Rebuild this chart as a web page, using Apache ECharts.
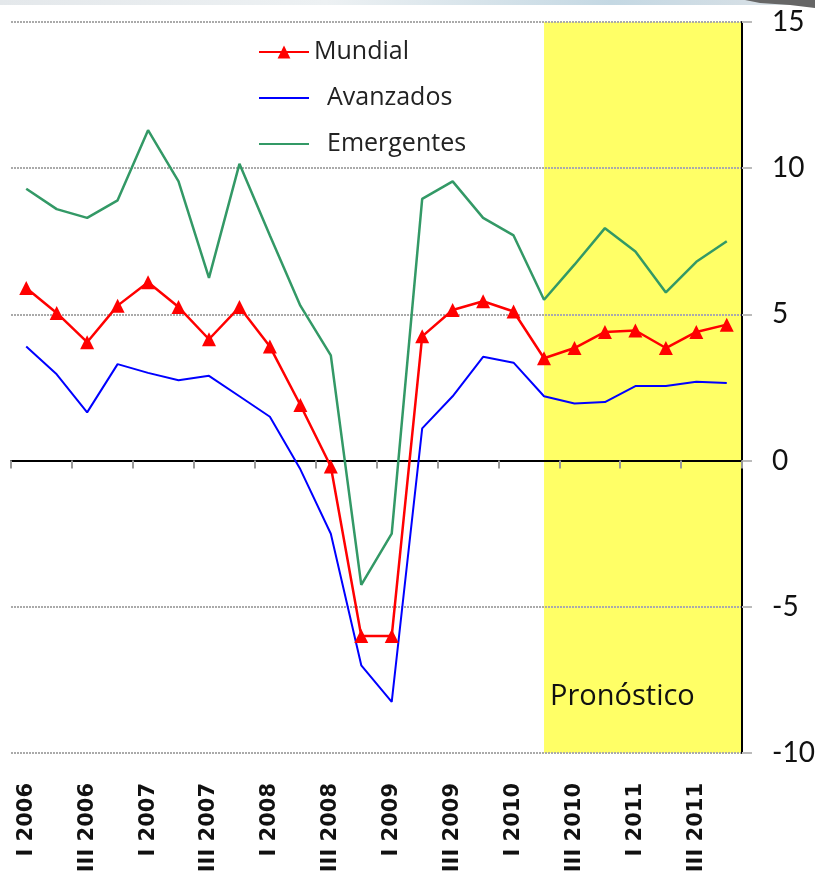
<!DOCTYPE html>
<html>
<head>
<meta charset="utf-8">
<script src="https://cdn.jsdelivr.net/npm/echarts@6/dist/echarts.min.js"></script>
<style>
  html, body { margin: 0; padding: 0; background: #fff; }
  #chart { width: 815px; height: 883px; }
</style>
</head>
<body>
<div id="chart"></div>
<script>
// trimestres 2006-2011
var quarters = [
    'I 2006', 'II 2006', 'III 2006', 'IV 2006',
    'I 2007', 'II 2007', 'III 2007', 'IV 2007',
    'I 2008', 'II 2008', 'III 2008', 'IV 2008',
    'I 2009', 'II 2009', 'III 2009', 'IV 2009',
    'I 2010', 'II 2010', 'III 2010', 'IV 2010',
    'I 2011', 'II 2011', 'III 2011', 'IV 2011'
];
var mundial = [5.9, 5.05, 4.05, 5.3, 6.1, 5.25, 4.15, 5.25, 3.9, 1.9, -0.2, -6.0,
               -6.0, 4.25, 5.15, 5.45, 5.1, 3.5, 3.85, 4.4, 4.45, 3.85, 4.4, 4.65];
var avanzados = [3.9, 2.95, 1.65, 3.3, 3.0, 2.75, 2.9, 2.2, 1.5, -0.3, -2.5, -7.0,
                 -8.25, 1.1, 2.2, 3.55, 3.35, 2.2, 1.95, 2.0, 2.55, 2.55, 2.7, 2.65];
var emergentes = [9.3, 8.6, 8.3, 8.9, 11.3, 9.55, 6.25, 10.15, 7.7, 5.3, 3.6, -4.25,
                  -2.5, 8.95, 9.55, 8.3, 7.7, 5.5, 6.7, 7.95, 7.15, 5.75, 6.8, 7.5];
var yTicks = [-10, -5, 0, 5, 10, 15];
var forecastStart = 'II 2010';

var chart = echarts.init(document.getElementById('chart'), null, { renderer: 'canvas' });

var option = {
    animation: false,
    backgroundColor: '#fff',
    grid: { left: 11, right: 73, top: 22, bottom: 130, containLabel: false, outerBoundsMode: 'none' },
    legend: {
        orient: 'vertical',
        left: 253,
        top: 33,
        itemWidth: 50,
        itemHeight: 16,
        itemGap: 18,
        data: [
            { name: 'Mundial' },
            { name: 'Avanzados', itemStyle: { opacity: 0 } },
            { name: 'Emergentes', itemStyle: { opacity: 0 } }
        ],
        formatter: function (name) {
            return name === 'Mundial' ? name : '  ' + name;
        },
        textStyle: { fontFamily: 'Open Sans', fontSize: 25, lineHeight: 28, color: '#222' }
    },
    xAxis: [{
        type: 'category',
        data: quarters,
        position: 'bottom',
        axisLine: { show: false, onZero: false },
        axisTick: { show: false },
        splitLine: { show: false },
        axisLabel: {
            interval: 1,
            rotate: 90,
            margin: 30,
            fontFamily: 'DejaVu Sans',
            fontWeight: 'bold',
            fontSize: 21,
            color: '#111'
        }
    }, {
        // linea del cero con marcas
        type: 'category',
        data: quarters,
        position: 'top',
        z: 2,
        axisLine: { show: true, onZero: true, lineStyle: { color: '#000', width: 2 } },
        axisTick: { show: true, inside: true, length: 8, lineStyle: { color: '#999', width: 2 } },
        axisLabel: { show: false },
        splitLine: { show: false }
    }],
    yAxis: {
        type: 'value',
        position: 'right',
        min: yTicks[0],
        max: yTicks[yTicks.length - 1],
        interval: 5,
        z: 2,
        axisLine: { show: true, onZero: false, lineStyle: { color: '#000', width: 2 } },
        axisTick: { show: true, length: 10, lineStyle: { color: '#bbb', width: 2 } },
        axisLabel: { margin: 30, fontFamily: 'Lato', fontSize: 28, color: '#111' },
        splitLine: { show: true, lineStyle: { color: '#aaa', width: 2, type: [2, 1] } }
    },
    series: [{
        name: 'Mundial',
        type: 'line',
        z: 3,
        data: mundial,
        symbol: 'triangle',
        symbolSize: 14,
        itemStyle: { color: '#ff0000' },
        lineStyle: { color: '#ff0000', width: 2.5 },
        markArea: {
            silent: true,
            z: 1,
            itemStyle: { color: '#ffff66' },
            data: [[{ xAxis: forecastStart }, {}]]
        }
    }, {
        name: 'Avanzados',
        type: 'line',
        z: 3,
        data: avanzados,
        symbol: 'none',
        itemStyle: { color: '#0000ff' },
        lineStyle: { color: '#0000ff', width: 2 }
    }, {
        name: 'Emergentes',
        type: 'line',
        z: 3,
        data: emergentes,
        symbol: 'none',
        itemStyle: { color: '#339966' },
        lineStyle: { color: '#339966', width: 2.5 }
    }],
    graphic: [{
        type: 'rect',
        shape: { x: 0, y: 0, width: 815, height: 5 },
        style: {
            fill: new echarts.graphic.LinearGradient(0, 0, 1, 0, [
                { offset: 0, color: '#e4e8eb' },
                { offset: 0.4, color: '#edf1f3' },
                { offset: 0.75, color: '#c4d8e3' },
                { offset: 1, color: '#dde2e6' }
            ])
        },
        silent: true
    }, {
        type: 'polygon',
        shape: { points: [[745, 0], [815, 0], [815, 8], [790, 5], [760, 3]] },
        style: { fill: '#666' },
        silent: true
    }, {
        type: 'text',
        x: 550,
        y: 697,
        z: 10,
        style: {
            text: 'Pronóstico',
            fontFamily: 'Open Sans',
            fontSize: 29,
            fill: '#111',
            verticalAlign: 'middle'
        },
        silent: true
    }]
};

chart.setOption(option);
</script>
</body>
</html>
